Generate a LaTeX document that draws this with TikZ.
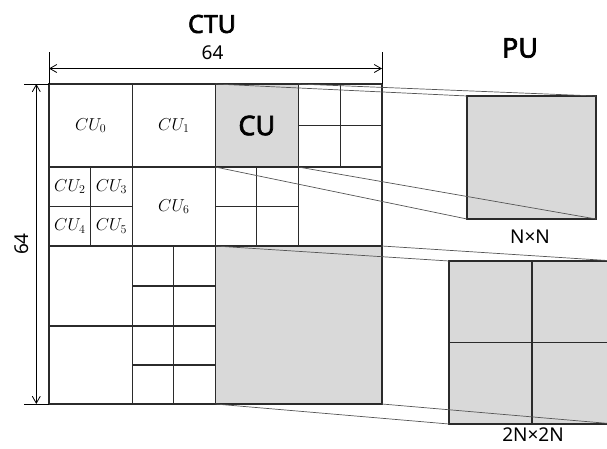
\documentclass[tikz,border=0pt]{standalone}
\usepackage{fontspec}
\setmainfont{Noto Sans}[AutoFakeBold=2.5]
\usepackage{xcolor}
\usetikzlibrary{arrows.meta}
\usetikzlibrary{math}

\definecolor{cellgray}{HTML}{D9D9D9}
\definecolor{gridline}{HTML}{2B2B2B}
\definecolor{zoomline}{HTML}{555555}

\begin{document}
\begin{tikzpicture}[x=1pt, y=-1pt,
  grid/.style={draw=gridline, line width=1.1pt},
  cell/.style={grid, fill=cellgray, inner sep=0pt, outer sep=0pt, anchor=north west},
  zoom/.style={draw=zoomline, line width=0.7pt},
  dim/.style={draw=black, line width=0.8pt},
  dimarrow/.style={dim, {Straight Barb[length=7pt,width=8pt]}-{Straight Barb[length=7pt,width=8pt]}},
  big/.style={font=\fontsize{25}{27}\selectfont\bfseries},
  num/.style={font=\fontsize{19}{21}\selectfont, inner sep=1pt},
  cu/.style={font=\fontsize{18}{20}\selectfont, inner sep=1pt}]
\tikzmath{
\xa=49; \xb=132.3; \xc=215.3; \xd=298.3; \xe=382;
\ya=84; \yb=167; \yc=246; \yd=326; \ye=404;
\xab=(\xa+\xb)/2; \xbc=(\xb+\xc)/2; \xcd=(\xc+\xd)/2; \xde=(\xd+\xe)/2;
\yab=(\ya+\yb)/2; \ybc=(\yb+\yc)/2; \ycd=(\yc+\yd)/2; \yde=(\yd+\ye)/2;
}
\clip (0,0) rectangle (607,448);

\node[cell, minimum width=\xd-\xc, minimum height=\yb-\ya, font=\fontsize{27}{29}\selectfont\bfseries] (cu) at (\xc,\ya) {CU};
\node[cell, minimum width=\xe-\xc, minimum height=\ye-\yc] (blk) at (\xc,\yc) {};
\node[cell, minimum width=129, minimum height=123] (pu1) at (467,96) {};
\node[cell, minimum width=166, minimum height=163] (pu2) at (449,261) {};
\draw[grid] (pu2.north) -- (pu2.south) (pu2.west) -- (pu2.east);

% quadtree of the CTU
\draw[grid] (\xa,\ya) rectangle (\xe,\ye);
\draw[grid] (\xb,\ya) -- (\xb,\ye) (\xc,\ya) -- (\xc,\ye) (\xd,\ya) -- (\xd,\yc);
\draw[grid] (\xa,\yb) -- (\xe,\yb) (\xa,\yc) -- (\xe,\yc) (\xa,\yd) -- (\xc,\yd);
\draw[grid] (\xde,\ya) -- (\xde,\yb) (\xd,\yab) -- (\xe,\yab);
\draw[grid] (\xab,\yb) -- (\xab,\yc) (\xa,\ybc) -- (\xb,\ybc);
\draw[grid] (\xcd,\yb) -- (\xcd,\yc) (\xc,\ybc) -- (\xd,\ybc);
\draw[grid] (\xbc,\yc) -- (\xbc,\ye) (\xb,\ycd) -- (\xc,\ycd) (\xb,\yde) -- (\xc,\yde);

\node[cu] (cu0) at (\xab,\yab) {$CU_0$};
\node[cu] (cu1) at (\xbc,\yab) {$CU_1$};
\node[cu] (cu2) at ({(\xa+\xab)/2},{(\yb+\ybc)/2}) {$CU_2$};
\node[cu] (cu3) at ({(\xab+\xb)/2},{(\yb+\ybc)/2}) {$CU_3$};
\node[cu] (cu4) at ({(\xa+\xab)/2},{(\ybc+\yc)/2}) {$CU_4$};
\node[cu] (cu5) at ({(\xab+\xb)/2},{(\ybc+\yc)/2}) {$CU_5$};
\node[cu] (cu6) at (\xbc,\ybc) {$CU_6$};

% zoom lines
\draw[zoom] (cu.north west) -- (pu1.north west);
\draw[zoom] (cu.north east) -- (pu1.north east);
\draw[zoom] (cu.south west) -- (pu1.south west);
\draw[zoom] (cu.south east) -- (pu1.south east);
\draw[zoom] (blk.north west) -- (pu2.north west);
\draw[zoom] (blk.north east) -- (pu2.north east);
\draw[zoom] (blk.south west) -- (pu2.south west);
\draw[zoom] (blk.south east) -- (pu2.south east);

% dimensions
\coordinate (wl) at (\xa,68.5);
\coordinate (wr) at (\xe,68.5);
\coordinate (ht) at (36.3,\ya);
\coordinate (hb) at (36.3,\ye);
\draw[dim] (\xa,52) -- (\xa,\ya) (\xe,52) -- (\xe,\ya);
\draw[dim] (24,\ya) -- (\xa,\ya) (24,\ye) -- (\xa,\ye);
\draw[dimarrow] (wl) -- (wr);
\draw[dimarrow] (ht) -- (hb);
\node[num] (w64) at (212.5,53) {64};
\node[num, rotate=90] (h64) at (21.5,244) {64};

\node[big] (ctu) at (212,24) {CTU};
\node[font=\fontsize{27}{29}\selectfont\bfseries] (pu) at (520,48) {PU};
\node[num] (nn) at (530,236.5) {N×N};
\node[num] (tnn) at (533,435) {2N×2N};
\end{tikzpicture}
\end{document}
